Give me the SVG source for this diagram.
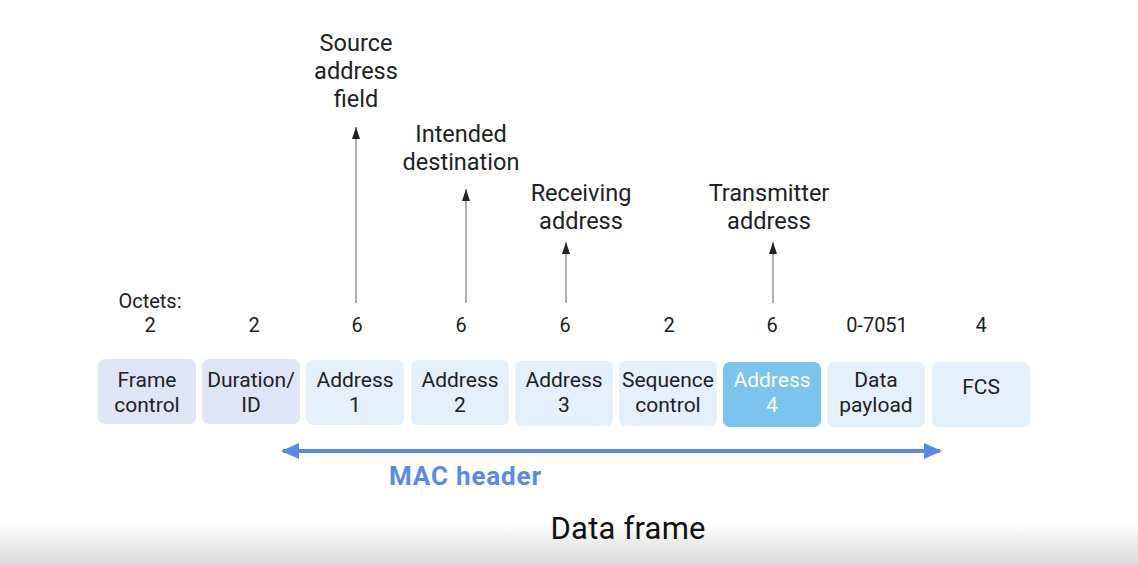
<svg xmlns="http://www.w3.org/2000/svg" width="1138" height="565" viewBox="0 0 1138 565">
<defs>
<linearGradient id="bot" x1="0" y1="0" x2="0" y2="1">
<stop offset="0" stop-color="#ffffff"/>
<stop offset="1" stop-color="#d9d9d9"/>
</linearGradient>
<marker id="ah" markerWidth="12" markerHeight="8" refX="12" refY="4" orient="auto" markerUnits="userSpaceOnUse" viewBox="0 0 12 8">
<path d="M0,0 L12,4 L0,8 Z" fill="#222"/>
</marker>
<marker id="bh" markerWidth="18" markerHeight="16" refX="16" refY="8" orient="auto-start-reverse" markerUnits="userSpaceOnUse" viewBox="0 0 18 16">
<path d="M0,0 L18,8 L0,16 Z" fill="#5b8ae4"/>
</marker>
<style>
text{font-family:Roboto,"Liberation Sans",sans-serif;fill:#202124;text-anchor:middle}
.lbl{font-size:23.5px}
.box{font-size:21px}
.num{font-size:20px}
.lav{fill:#dfe4f7}
.lb{fill:#e4f0fb}
.hi{fill:#7cc3ee}
.up{stroke:#9a9a9a;stroke-width:1.6;fill:none;marker-end:url(#ah)}
</style>
</defs>
<rect x="0" y="0" width="1138" height="565" fill="#ffffff"/>
<rect x="0" y="522" width="1138" height="43" fill="url(#bot)"/>

<g id="labels">
<text class="lbl" x="356" y="51">Source</text>
<text class="lbl" x="356" y="79">address</text>
<text class="lbl" x="356" y="107">field</text>
<text class="lbl" x="461" y="142">Intended</text>
<text class="lbl" x="461" y="170">destination</text>
<text class="lbl" x="581" y="201">Receiving</text>
<text class="lbl" x="581" y="229">address</text>
<text class="lbl" x="769" y="201">Transmitter</text>
<text class="lbl" x="769" y="229">address</text>
</g>

<g id="connectors">
<line class="up" x1="356" y1="303" x2="356" y2="127"/>
<line class="up" x1="466" y1="303" x2="466" y2="189"/>
<line class="up" x1="566" y1="303" x2="566" y2="242"/>
<line class="up" x1="773" y1="303" x2="773" y2="242"/>
<line x1="283" y1="451" x2="940" y2="451" stroke="#5b8ae4" stroke-width="4" marker-start="url(#bh)" marker-end="url(#bh)"/>
</g>

<g id="octets">
<text class="num" x="150" y="308">Octets:</text>
<text class="num" x="150" y="332">2</text>
<text class="num" x="254" y="332">2</text>
<text class="num" x="357" y="332">6</text>
<text class="num" x="461" y="332">6</text>
<text class="num" x="565" y="332">6</text>
<text class="num" x="669" y="332">2</text>
<text class="num" x="772" y="332">6</text>
<text class="num" x="877" y="332">0-7051</text>
<text class="num" x="981" y="332">4</text>
</g>

<g id="frame-control"><rect class="lav" x="98" y="359" width="98" height="65" rx="7"/><text class="box" x="147" y="387">Frame</text><text class="box" x="147" y="412">control</text></g>
<g id="duration-id"><rect class="lav" x="202" y="359" width="98" height="65" rx="7"/><text class="box" x="251" y="387">Duration/</text><text class="box" x="251" y="412">ID</text></g>
<g id="address-1"><rect class="lb" x="306" y="360" width="98" height="65" rx="7"/><text class="box" x="355" y="387">Address</text><text class="box" x="355" y="412">1</text></g>
<g id="address-2"><rect class="lb" x="411" y="360" width="98" height="65" rx="7"/><text class="box" x="460" y="387">Address</text><text class="box" x="460" y="412">2</text></g>
<g id="address-3"><rect class="lb" x="515" y="361" width="98" height="65" rx="7"/><text class="box" x="564" y="387">Address</text><text class="box" x="564" y="412">3</text></g>
<g id="sequence-control"><rect class="lb" x="619" y="361" width="98" height="65" rx="7"/><text class="box" x="668" y="387">Sequence</text><text class="box" x="668" y="412">control</text></g>
<g id="address-4"><rect class="hi" x="723" y="362" width="98" height="65" rx="7"/><text class="box" x="772" y="387" style="fill:#ffffff">Address</text><text class="box" x="772" y="412" style="fill:#ffffff">4</text></g>
<g id="data-payload"><rect class="lb" x="827" y="362" width="98" height="65" rx="7"/><text class="box" x="876" y="387">Data</text><text class="box" x="876" y="412">payload</text></g>
<g id="fcs"><rect class="lb" x="932" y="362" width="98" height="65" rx="7"/><text class="box" x="981" y="394">FCS</text></g>

<g id="titles">
<text x="465" y="485" textLength="152" style="font-size:26px;font-weight:bold;fill:#5b8ae4">MAC header</text>
<text x="628" y="539" textLength="155" style="font-size:31px;fill:#111">Data frame</text>
</g>
</svg>
